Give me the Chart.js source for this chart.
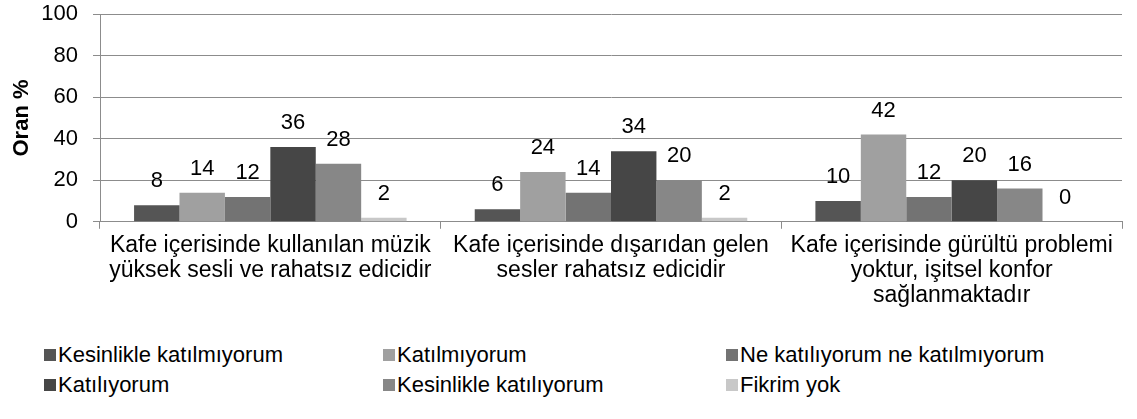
<!DOCTYPE html>
<html>
<head>
<meta charset="utf-8">
<script src="https://cdn.jsdelivr.net/npm/chart.js@4/dist/chart.umd.min.js"></script>
<style>
    html, body { margin: 0; padding: 0; background: #fff; }
    body { width: 1137px; height: 419px; position: relative; overflow: hidden; font-family: "Liberation Sans", Arial, sans-serif; }
    #wrap { position: absolute; left: 0; top: -14px; width: 1137px; height: 344px; }
    #legend { position: absolute; left: 44px; top: 343px; width: 1080px; display: grid; grid-template-columns: 339px 343px 380px; row-gap: 6px; }
    .item { display: flex; align-items: center; font-size: 22px; color: #000; height: 24px; white-space: nowrap; }
    .box { width: 12px; height: 12px; margin-right: 2px; }
</style>
</head>
<body>
<div id="wrap"><canvas id="chart"></canvas></div>
<div id="legend"></div>
<script>
// categories
const categories = [
    ['Kafe içerisinde kullanılan müzik', 'yüksek sesli ve rahatsız edicidir'],
    ['Kafe içerisinde dışarıdan gelen', 'sesler rahatsız edicidir'],
    ['Kafe içerisinde gürültü problemi', 'yoktur, işitsel konfor', 'sağlanmaktadır']
];

// series values (%)
const kesinlikleKatilmiyorum = [8, 6, 10];
const katilmiyorum = [14, 24, 42];
const neKatiliyorumNe = [12, 14, 12];
const katiliyorum = [36, 34, 20];
const kesinlikleKatiliyorum = [28, 20, 16];
const fikrimYok = [2, 2, 0];

const seriesNames = ['Kesinlikle katılmıyorum', 'Katılmıyorum', 'Ne katılıyorum ne katılmıyorum',
    'Katılıyorum', 'Kesinlikle katılıyorum', 'Fikrim yok'];
const seriesColors = ['#555555', '#a0a0a0', '#737373', '#464646', '#878787', '#c8c8c8'];
const seriesValues = [kesinlikleKatilmiyorum, katilmiyorum, neKatiliyorumNe, katiliyorum, kesinlikleKatiliyorum, fikrimYok];

// y ticks
const yTicks = [0, 20, 40, 60, 80, 100];

const fontFamily = '"Liberation Sans", Arial, sans-serif';

// draws the value above each bar
const valueLabels = {
    id: 'valueLabels',
    afterDatasetsDraw(chart) {
        const ctx = chart.ctx;
        ctx.save();
        ctx.font = '22px ' + fontFamily;
        ctx.fillStyle = '#000';
        ctx.textAlign = 'center';
        ctx.textBaseline = 'middle';
        chart.data.datasets.forEach((ds, i) => {
            const meta = chart.getDatasetMeta(i);
            meta.data.forEach((bar, j) => {
                ctx.fillText(String(ds.data[j]), bar.x, bar.y - 24);
            });
        });
        ctx.restore();
    }
};

const datasets = seriesNames.map((name, i) => ({
    label: name,
    data: seriesValues[i],
    backgroundColor: seriesColors[i],
    borderWidth: 0
}));

new Chart(document.getElementById('chart'), {
    type: 'bar',
    data: { labels: categories, datasets: datasets },
    options: {
        responsive: true,
        maintainAspectRatio: false,
        animation: false,
        layout: { padding: { top: 0, right: 15, left: 9, bottom: 18 } },
        plugins: {
            legend: { display: false },
            tooltip: { enabled: false }
        },
        datasets: {
            bar: { categoryPercentage: 0.8, barPercentage: 1.0 }
        },
        scales: {
            x: {
                grid: { drawOnChartArea: false, drawTicks: true, tickLength: 7, color: '#8c8c8c' },
                border: { display: true, color: '#8c8c8c' },
                ticks: {
                    color: '#000',
                    font: { size: 23, family: fontFamily, lineHeight: 1.09 },
                    maxRotation: 0,
                    autoSkip: false,
                    padding: 4
                }
            },
            y: {
                min: 0,
                max: 100,
                afterBuildTicks(axis) { axis.ticks = yTicks.map(v => ({ value: v })); },
                afterFit(axis) { axis.width = 91; },
                grid: { color: '#8c8c8c', tickLength: 7 },
                border: { display: true, color: '#8c8c8c' },
                ticks: {
                    color: '#000',
                    font: { size: 22, family: fontFamily },
                    padding: 15
                },
                title: {
                    display: true,
                    text: 'Oran %',
                    color: '#000',
                    font: { size: 22, weight: 'bold', family: fontFamily },
                    padding: { top: 0, bottom: 4 }
                }
            }
        }
    },
    plugins: [valueLabels]
});

// legend in three columns
const legend = document.getElementById('legend');
seriesNames.forEach((name, i) => {
    const item = document.createElement('div');
    item.className = 'item';
    const box = document.createElement('span');
    box.className = 'box';
    box.style.background = seriesColors[i];
    const text = document.createElement('span');
    text.textContent = name;
    item.appendChild(box);
    item.appendChild(text);
    legend.appendChild(item);
});
</script>
</body>
</html>
